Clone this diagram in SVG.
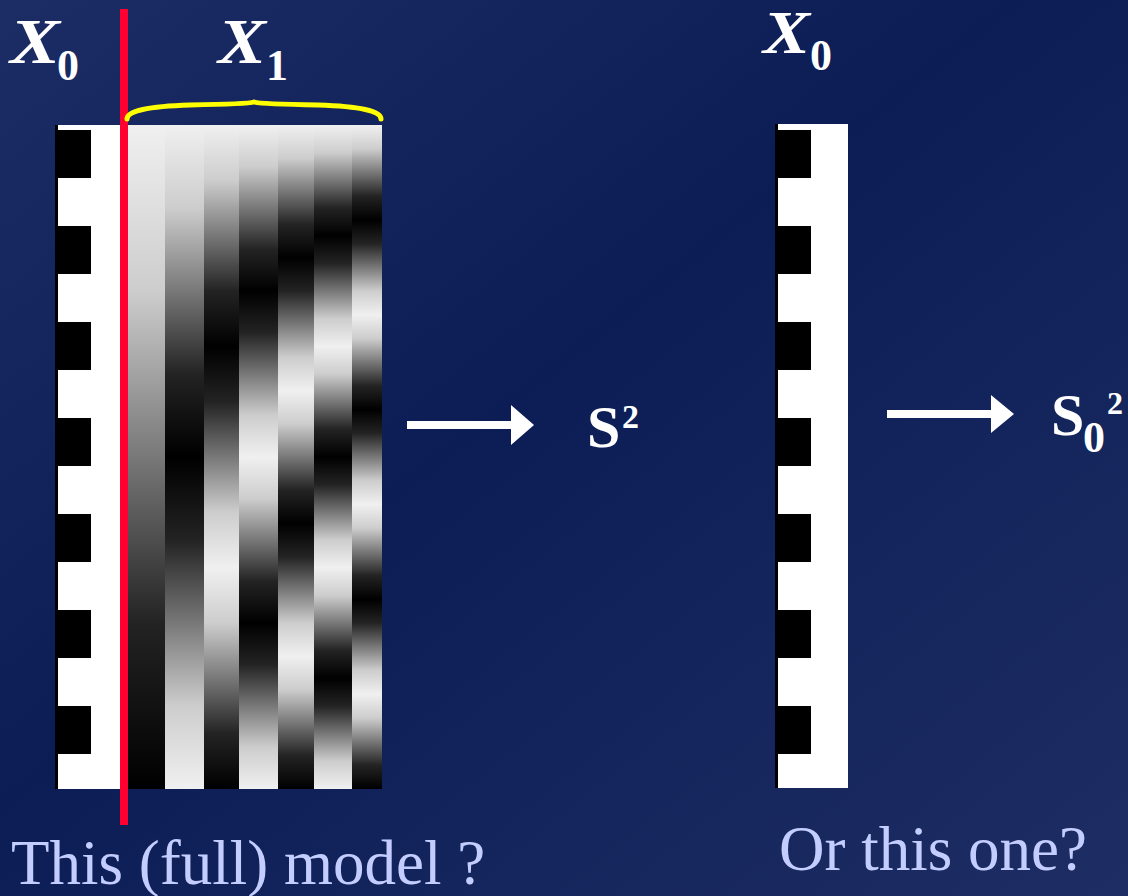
<svg xmlns="http://www.w3.org/2000/svg" width="1128" height="896" viewBox="0 0 1128 896">
<style>
.lbl{font-family:"Liberation Serif","Times New Roman",serif;fill:#ffffff;font-weight:bold}
.it{font-style:italic}
.q{font-family:"Liberation Serif","Times New Roman",serif;fill:#c3cdff;font-size:63px}
.a{stop-color:#f0f0f0}.b{stop-color:#cdcdcd}.c{stop-color:#787878}.d{stop-color:#232323}.e{stop-color:#000000}
.arrow{fill:#ffffff}
</style>
<defs>
<linearGradient id="bg" x1="0" y1="0" x2="1" y2="1">
<stop offset="0" stop-color="#1c2c64"/>
<stop offset="0.45" stop-color="#0c1d56"/>
<stop offset="1" stop-color="#1e2e64"/>
</linearGradient>
<pattern id="blk" patternUnits="userSpaceOnUse" x="0" y="130" width="1128" height="96">
<rect x="0" y="0" width="1128" height="48" fill="#000"/>
</pattern>
<linearGradient id="g1" x1="0" y1="0" x2="0" y2="1">
<stop offset="0" class="a"/><stop offset="0.25" class="b"/><stop offset="0.5" class="c"/><stop offset="0.75" class="d"/><stop offset="1" class="e"/>
</linearGradient>
<linearGradient id="g2" x1="0" y1="0" x2="0" y2="1">
<stop offset="0" class="a"/><stop offset="0.125" class="b"/><stop offset="0.25" class="c"/><stop offset="0.375" class="d"/><stop offset="0.5" class="e"/><stop offset="0.625" class="d"/><stop offset="0.75" class="c"/><stop offset="0.875" class="b"/><stop offset="1" class="a"/>
</linearGradient>
<linearGradient id="g3" x1="0" y1="0" x2="0" y2="1">
<stop offset="0" class="a"/><stop offset="0.0833" class="b"/><stop offset="0.1667" class="c"/><stop offset="0.25" class="d"/><stop offset="0.3333" class="e"/><stop offset="0.4167" class="d"/><stop offset="0.5" class="c"/><stop offset="0.5833" class="b"/><stop offset="0.6667" class="a"/><stop offset="0.75" class="b"/><stop offset="0.8333" class="c"/><stop offset="0.9167" class="d"/><stop offset="1" class="e"/>
</linearGradient>
<linearGradient id="g4" x1="0" y1="0" x2="0" y2="1">
<stop offset="0" class="a"/><stop offset="0.0625" class="b"/><stop offset="0.125" class="c"/><stop offset="0.1875" class="d"/><stop offset="0.25" class="e"/><stop offset="0.3125" class="d"/><stop offset="0.375" class="c"/><stop offset="0.4375" class="b"/><stop offset="0.5" class="a"/><stop offset="0.5625" class="b"/><stop offset="0.625" class="c"/><stop offset="0.6875" class="d"/><stop offset="0.75" class="e"/><stop offset="0.8125" class="d"/><stop offset="0.875" class="c"/><stop offset="0.9375" class="b"/><stop offset="1" class="a"/>
</linearGradient>
<linearGradient id="g5" x1="0" y1="0" x2="0" y2="1">
<stop offset="0" class="a"/><stop offset="0.05" class="b"/><stop offset="0.1" class="c"/><stop offset="0.15" class="d"/><stop offset="0.2" class="e"/><stop offset="0.25" class="d"/><stop offset="0.3" class="c"/><stop offset="0.35" class="b"/><stop offset="0.4" class="a"/><stop offset="0.45" class="b"/><stop offset="0.5" class="c"/><stop offset="0.55" class="d"/><stop offset="0.6" class="e"/><stop offset="0.65" class="d"/><stop offset="0.7" class="c"/><stop offset="0.75" class="b"/><stop offset="0.8" class="a"/><stop offset="0.85" class="b"/><stop offset="0.9" class="c"/><stop offset="0.95" class="d"/><stop offset="1" class="e"/>
</linearGradient>
<linearGradient id="g6" x1="0" y1="0" x2="0" y2="1">
<stop offset="0" class="a"/><stop offset="0.04167" class="b"/><stop offset="0.08333" class="c"/><stop offset="0.125" class="d"/><stop offset="0.16667" class="e"/><stop offset="0.20833" class="d"/><stop offset="0.25" class="c"/><stop offset="0.29167" class="b"/><stop offset="0.33333" class="a"/><stop offset="0.375" class="b"/><stop offset="0.41667" class="c"/><stop offset="0.45833" class="d"/><stop offset="0.5" class="e"/><stop offset="0.54167" class="d"/><stop offset="0.58333" class="c"/><stop offset="0.625" class="b"/><stop offset="0.66667" class="a"/><stop offset="0.70833" class="b"/><stop offset="0.75" class="c"/><stop offset="0.79167" class="d"/><stop offset="0.83333" class="e"/><stop offset="0.875" class="d"/><stop offset="0.91667" class="c"/><stop offset="0.95833" class="b"/><stop offset="1" class="a"/>
</linearGradient>
<linearGradient id="g7" x1="0" y1="0" x2="0" y2="1">
<stop offset="0" class="a"/><stop offset="0.03571" class="b"/><stop offset="0.07143" class="c"/><stop offset="0.10714" class="d"/><stop offset="0.14286" class="e"/><stop offset="0.17857" class="d"/><stop offset="0.21429" class="c"/><stop offset="0.25" class="b"/><stop offset="0.28571" class="a"/><stop offset="0.32143" class="b"/><stop offset="0.35714" class="c"/><stop offset="0.39286" class="d"/><stop offset="0.42857" class="e"/><stop offset="0.46429" class="d"/><stop offset="0.5" class="c"/><stop offset="0.53571" class="b"/><stop offset="0.57143" class="a"/><stop offset="0.60714" class="b"/><stop offset="0.64286" class="c"/><stop offset="0.67857" class="d"/><stop offset="0.71429" class="e"/><stop offset="0.75" class="d"/><stop offset="0.78571" class="c"/><stop offset="0.82143" class="b"/><stop offset="0.85714" class="a"/><stop offset="0.89286" class="b"/><stop offset="0.92857" class="c"/><stop offset="0.96429" class="d"/><stop offset="1" class="e"/>
</linearGradient>
</defs>

<rect x="0" y="0" width="1128" height="896" fill="url(#bg)"/>

<g id="full-model">
<rect x="55" y="125" width="73" height="664" fill="#ffffff"/>
<rect x="55" y="125" width="3" height="664" fill="#000"/>
<rect x="58" y="130" width="33" height="624" fill="url(#blk)"/>
<rect x="128" y="125" width="37" height="664" fill="url(#g1)"/>
<rect x="165" y="125" width="39" height="664" fill="url(#g2)"/>
<rect x="204" y="125" width="35" height="664" fill="url(#g3)"/>
<rect x="239" y="125" width="39" height="664" fill="url(#g4)"/>
<rect x="278" y="125" width="36" height="664" fill="url(#g5)"/>
<rect x="314" y="125" width="38" height="664" fill="url(#g6)"/>
<rect x="352" y="125" width="30" height="664" fill="url(#g7)"/>
<rect x="120" y="9" width="8" height="816" fill="#ff0030"/>
<path d="M127,119 Q127,107 190,105 Q248,104 254,102 Q260,104 318,105 Q381,107 381,119" fill="none" stroke="#ffff00" stroke-width="5" stroke-linecap="round"/>
</g>

<g id="reduced-model">
<rect x="775" y="124" width="73" height="664" fill="#ffffff"/>
<rect x="775" y="124" width="3" height="664" fill="#000"/>
<rect x="778" y="130" width="33" height="624" fill="url(#blk)"/>
</g>

<g id="labels">
<text class="lbl it" x="10" y="63" font-size="64" textLength="50" lengthAdjust="spacingAndGlyphs">X</text>
<text class="lbl" x="57" y="80" font-size="44">0</text>
<text class="lbl it" x="218" y="63" font-size="64" textLength="48" lengthAdjust="spacingAndGlyphs">X</text>
<text class="lbl" x="266" y="80" font-size="44">1</text>
<text class="lbl it" x="763" y="53" font-size="62" textLength="47" lengthAdjust="spacingAndGlyphs">X</text>
<text class="lbl" x="810" y="70" font-size="44">0</text>
<text class="lbl" x="587" y="447" font-size="60">S</text>
<text class="lbl" x="622" y="428" font-size="34">2</text>
<text class="lbl" x="1051" y="435" font-size="60">S</text>
<text class="lbl" x="1083" y="452" font-size="44">0</text>
<text class="lbl" x="1107" y="414" font-size="32">2</text>
</g>

<g id="connectors">
<rect class="arrow" x="407" y="421" width="105" height="8"/>
<polygon class="arrow" points="511,405 534,425 511,445"/>
<rect class="arrow" x="887" y="410" width="105" height="8"/>
<polygon class="arrow" points="991,395 1014,414 991,433"/>
</g>

<g id="captions">
<text class="q" x="11" y="884">This (full) model ?</text>
<text class="q" x="779" y="870">Or this one?</text>
</g>
</svg>
